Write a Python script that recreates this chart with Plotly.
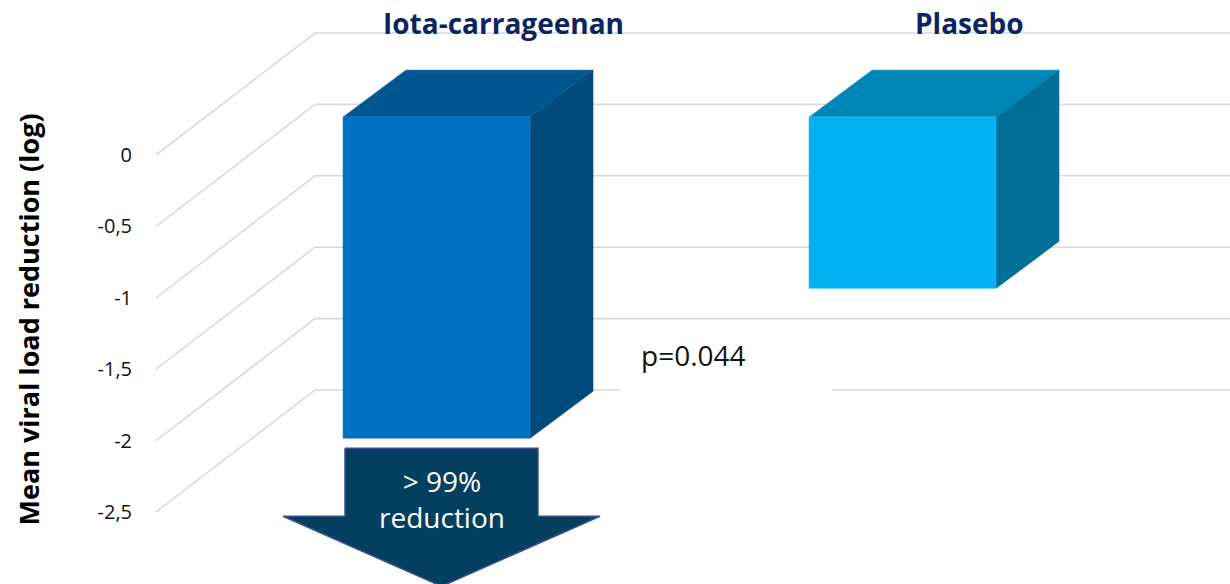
import plotly.graph_objects as go

# ---- data ----
categories = ["Iota-carrageenan", "Plasebo"]
values = [-2.25, -1.2]
tick_vals = [0, -0.5, -1, -1.5, -2, -2.5]
tick_text = ["0", "-0,5", "-1", "-1,5", "-2", "-2,5"]
p_value_text = "p=0.044"
arrow_text = "> 99%<br>reduction"
y_title = "Mean viral load reduction (log)"

# ---- styling / layout constants ----
W, H = 1230, 584
PX_PER_UNIT = 142.8
ZERO_PX = 155
YMAX = ZERO_PX / PX_PER_UNIT
YMIN = YMAX - H / PX_PER_UNIT
X0 = 139  # left of plotting domain in px

front_colors = ["#0070c0", "#00b0f0"]
top_colors = ["#00568f", "#0086b4"]
side_colors = ["#00497d", "#006f98"]
edge_colors = ["#2f7fc0", "#40c0ec"]

GRID_DX, GRID_DY = 159, 122 / PX_PER_UNIT
BAR_FRONT_OFF = 38 / PX_PER_UNIT
BAR_DX, BAR_DY = 63, 47 / PX_PER_UNIT
BAR_W = 187
BAR_LEFT0, BAR_STEP = 343, 466


def vpx(p):
    """pixel row -> axis value (front plane)"""
    return (ZERO_PX - p) / PX_PER_UNIT


fig = go.Figure()

# gridlines (3D floor-style perspective lines)
for v in tick_vals:
    fig.add_trace(go.Scatter(
        x=[156, 156 + GRID_DX, W + 5],
        y=[v, v + GRID_DY, v + GRID_DY],
        mode="lines", line=dict(color="#d9d9d9", width=1.6),
        hoverinfo="skip", showlegend=False))

# bars
for i, (cat, v) in enumerate(zip(categories, values)):
    xl = BAR_LEFT0 + BAR_STEP * i
    xr = xl + BAR_W
    top = 0 + BAR_FRONT_OFF
    bot = v + BAR_FRONT_OFF
    # top face
    fig.add_trace(go.Scatter(
        x=[xl, xr, xr + BAR_DX, xl + BAR_DX, xl],
        y=[top, top, top + BAR_DY, top + BAR_DY, top],
        fill="toself", fillcolor=top_colors[i], mode="lines",
        line=dict(color=edge_colors[i], width=0.6),
        hoverinfo="skip", showlegend=False))
    # side face
    fig.add_trace(go.Scatter(
        x=[xr, xr + BAR_DX, xr + BAR_DX, xr, xr],
        y=[top, top + BAR_DY, bot + BAR_DY, bot, top],
        fill="toself", fillcolor=side_colors[i], mode="lines",
        line=dict(color=side_colors[i], width=0.6),
        hoverinfo="skip", showlegend=False))
    # front face
    fig.add_trace(go.Scatter(
        x=[xl, xr, xr, xl, xl],
        y=[top, top, bot, bot, top],
        fill="toself", fillcolor=front_colors[i], mode="lines",
        line=dict(color=edge_colors[i], width=0.6),
        hoverinfo="skip", showlegend=False, name=cat))
    # category label
    fig.add_annotation(
        x=(xl + xr) / 2 + 67, y=vpx(23), xref="x", yref="y",
        text="<b>%s</b>" % cat, showarrow=False,
        font=dict(family="Open Sans", size=28, color="#0c2461"))

# down arrow under the iota bar
xl = BAR_LEFT0
bar_bottom_px = ZERO_PX - (values[0] + BAR_FRONT_OFF) * PX_PER_UNIT
ax_l, ax_r = xl + 2, xl + 195
ah_l, ah_r = xl - 60, xl + 257
a_top = bar_bottom_px + 10
a_mid = bar_bottom_px + 78
a_tip = bar_bottom_px + 148
ax_c = (ah_l + ah_r) / 2
fig.add_trace(go.Scatter(
    x=[ax_l, ax_r, ax_r, ah_r, ax_c, ah_l, ax_l, ax_l],
    y=[vpx(a_top), vpx(a_top), vpx(a_mid), vpx(a_mid), vpx(a_tip),
       vpx(a_mid), vpx(a_mid), vpx(a_top)],
    fill="toself", fillcolor="#03405f", mode="lines",
    line=dict(color="#3b4f8c", width=1.5),
    hoverinfo="skip", showlegend=False))
fig.add_annotation(
    x=ax_c, y=vpx(499), xref="x", yref="y", text=arrow_text,
    showarrow=False, font=dict(family="Open Sans", size=28, color="white"))

# white box behind p-value text
fig.add_shape(type="rect", x0=620, x1=832, y0=vpx(327), y1=vpx(400),
              xref="x", yref="y", fillcolor="white", line=dict(width=0),
              layer="above")
fig.add_annotation(
    x=639, y=vpx(355), xref="x", yref="y", text=p_value_text,
    xanchor="left", showarrow=False,
    font=dict(family="Open Sans", size=28, color="#111111"))

# y-axis title
fig.add_annotation(
    x=7 / W, y=1 - 320 / H, xref="paper", yref="paper",
    text="<b>%s</b>" % y_title, textangle=-90, showarrow=False,
    font=dict(family="Open Sans", size=27, color="black"))

fig.update_layout(
    width=W, height=H, margin=dict(l=0, r=0, t=0, b=0),
    paper_bgcolor="white", plot_bgcolor="white",
    xaxis=dict(range=[X0, W], domain=[X0 / W, 1], visible=False, fixedrange=True),
    yaxis=dict(range=[YMIN, YMAX], tickvals=tick_vals, ticktext=tick_text,
               showgrid=False, zeroline=False, showline=False, ticks="",
               ticklabelstandoff=6,
               tickfont=dict(family="Open Sans", size=20, color="#111111"),
               fixedrange=True),
    showlegend=False,
)

fig.write_html("out.html", config={"displayModeBar": False},
               post_script="document.body.style.margin='0px';document.body.style.overflow='hidden';")
